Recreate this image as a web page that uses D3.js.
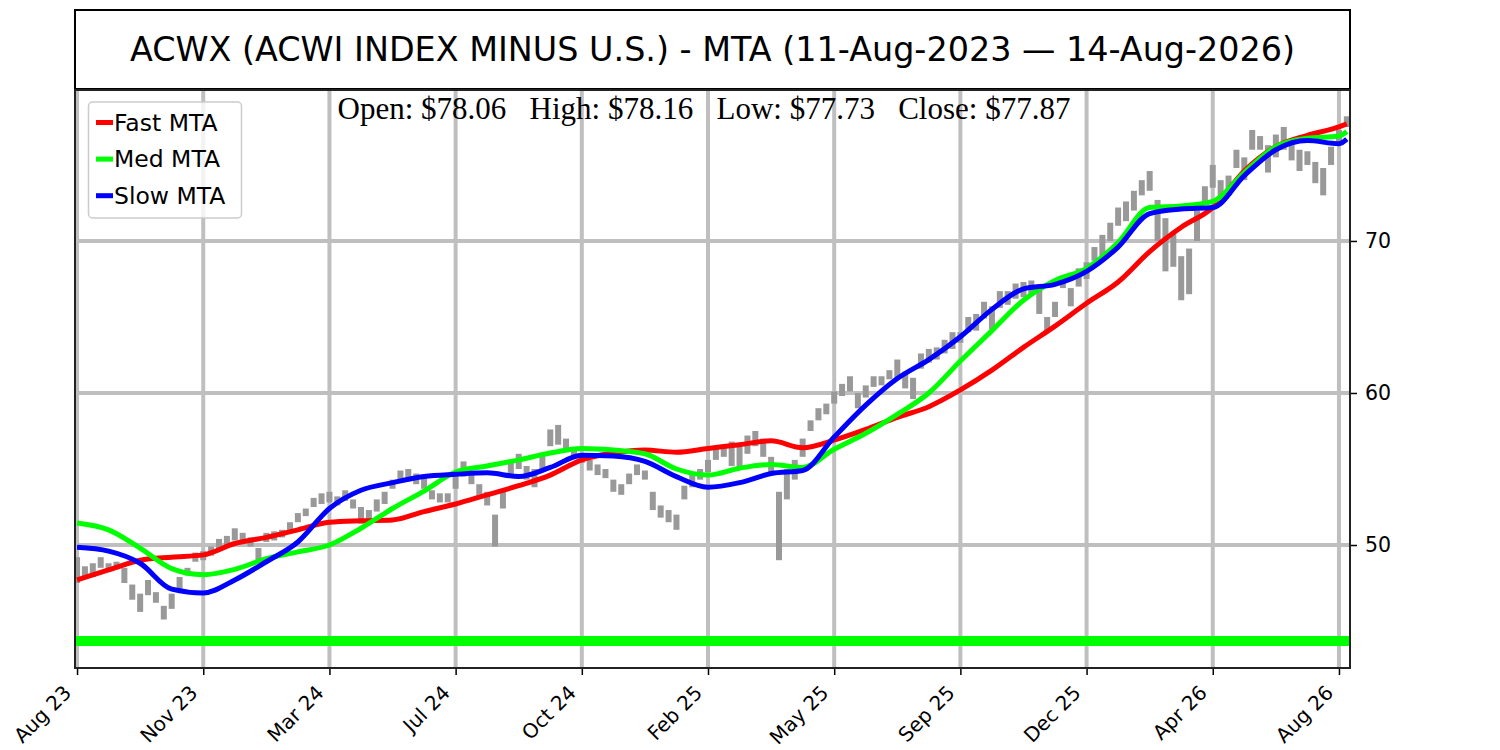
<!DOCTYPE html>
<html><head><meta charset="utf-8">
<script src="https://cdn.jsdelivr.net/npm/d3@7/dist/d3.min.js"></script>
<style>body{margin:0;background:#fff} svg{display:block}</style>
</head><body>
<svg id="c" width="1500" height="750"></svg>
<script>
// ---------- data ----------
const titleText = "ACWX (ACWI INDEX MINUS U.S.) - MTA (11-Aug-2023 \u2014 14-Aug-2026)";
const ohlcText = "Open: $78.06   High: $78.16   Low: $77.73   Close: $77.87";
const tickLabels = ["Aug 23","Nov 23","Mar 24","Jul 24","Oct 24","Feb 25","May 25","Sep 25","Dec 25","Apr 26","Aug 26"];
const tickIndex = [0,80,160,240,320,400,480,560,640,720,800];
const yTicks = [50,60,70];
const levelValue = 43.68;
const barStep = 5;  // bars sampled every 5 sessions
const barLow = [
47.5,47.8,47.9,48.5,48.3,48.4,47.5,46.4,45.6,46.7,46.2,45.1,45.8,47.0,48.0,48.9,49.0,49.3,49.6,49.8,
50.3,50.2,49.9,49.0,50.2,50.3,50.5,50.8,51.5,51.9,52.5,52.7,52.8,52.6,52.9,52.4,51.4,51.6,52.2,52.7,
53.7,54.2,54.2,54.0,53.7,53.0,52.8,52.8,53.7,54.5,54.0,53.2,52.6,49.9,52.4,54.4,55.0,54.3,53.8,55.0,
56.5,56.6,56.1,55.8,55.4,54.9,54.6,54.4,53.5,53.3,54.0,54.6,54.3,52.3,51.8,51.5,51.0,53.0,53.8,54.3,
54.8,55.6,55.8,55.2,55.0,56.0,56.5,55.8,54.8,49.0,53.0,54.3,55.8,57.5,58.2,58.6,59.3,59.8,60.1,59.0,
59.7,60.4,60.5,60.9,61.0,60.3,59.6,61.6,62.0,62.2,62.6,62.9,63.3,64.0,64.1,64.9,64.2,65.6,65.8,66.2,
66.3,66.5,65.2,64.0,65.0,66.9,65.7,67.0,67.5,68.7,69.0,70.0,71.0,71.3,72.0,73.0,73.3,70.0,68.0,68.3,
66.1,66.5,70.0,72.4,73.5,72.5,73.0,74.8,74.0,76.0,76.0,74.5,75.5,76.0,75.3,74.6,75.0,73.8,73.0,75.0,
76.3,77.5];
const barHigh = [
49.2,48.6,48.8,49.2,48.8,48.9,48.5,47.4,46.8,47.7,46.9,46.0,46.8,47.9,48.5,49.5,49.6,49.9,50.4,50.6,
51.1,50.8,50.5,49.8,50.8,50.9,51.0,51.5,52.1,52.4,53.1,53.4,53.5,53.2,53.6,53.0,52.5,52.3,53.0,53.5,
54.3,54.9,55.0,54.7,54.4,53.6,53.4,53.4,54.6,55.5,54.8,54.0,53.5,52.0,53.6,55.6,56.0,55.2,55.0,55.9,
57.6,57.9,57.0,56.4,55.9,55.6,55.3,55.0,54.3,54.0,54.7,55.3,54.9,53.5,52.6,52.3,52.0,53.9,54.6,55.0,
55.6,56.4,56.6,56.8,56.6,57.2,57.5,57.0,55.8,53.5,55.0,55.6,57.0,58.2,59.0,59.3,60.1,60.6,61.1,60.0,
60.5,61.1,61.1,61.5,62.2,61.4,61.0,62.6,62.9,63.0,63.5,64.0,64.0,65.0,65.2,66.0,65.7,66.7,66.7,67.2,
67.3,67.4,67.0,65.0,66.0,67.6,66.9,68.2,68.6,69.6,70.4,71.2,72.2,72.6,73.3,74.0,74.6,72.7,71.5,70.5,
69.0,69.5,72.0,73.6,75.0,74.0,74.3,76.0,75.5,77.3,76.9,76.3,77.0,77.5,76.6,76.0,75.9,75.2,74.8,76.2,
77.3,78.2];
const lineIndex = [0,20,40,60,80,100,120,140,160,180,200,220,240,260,280,300,320,340,360,380,400,
  420,440,460,480,500,520,540,560,580,600,620,640,660,680,700,720,740,760,780,800,805];
const fastMTA = [47.7,48.36,49.0,49.2,49.35,50.1,50.5,51.0,51.5,51.6,51.65,52.2,52.7,53.3,53.9,54.6,55.6,56.05,56.25,56.1,56.35,
  56.6,56.85,56.4,56.9,57.6,58.4,59.1,60.2,61.5,63.0,64.4,65.9,67.3,69.3,70.9,72.2,74.6,76.2,76.95,77.5,77.7];
const medMTA = [51.45,51.0,49.8,48.45,48.05,48.4,49.1,49.55,50.0,51.1,52.4,53.55,54.8,55.2,55.6,56.05,56.35,56.25,56.0,55.0,54.6,
  55.05,55.3,55.1,56.3,57.35,58.6,60.0,62.1,64.1,66.1,67.4,68.2,69.9,72.2,72.3,72.6,74.5,76.2,76.75,76.9,77.2];
const slowMTA = [49.85,49.6,48.8,47.1,46.85,47.7,48.9,50.2,52.4,53.6,54.1,54.5,54.65,54.75,54.5,55.1,55.9,55.85,55.5,54.5,53.8,
  54.1,54.7,54.9,57.1,59.2,60.95,62.2,63.7,65.5,66.85,67.15,68.0,69.6,71.8,72.1,72.2,74.3,76.0,76.6,76.4,76.7];
const seriesNames = ["Fast MTA","Med MTA","Slow MTA"];
const seriesColors = ["#ff0000","#00ff00","#0000ff"];

// ---------- layout ----------
const L = 75, R = 1350, T = 90, B = 668;
const svg = d3.select("#c");
const x = d3.scaleLinear().domain([-1.3, 807]).range([L, R]);
const y = d3.scaleLinear().domain([41.91, 79.93]).range([B, T]);

// title box
svg.append("rect").attr("x", L).attr("y", 10).attr("width", R - L).attr("height", 79)
  .attr("fill", "#fff").attr("stroke", "#000").attr("stroke-width", 2);
svg.append("text").attr("x", (L + R) / 2).attr("y", 60.5).attr("text-anchor", "middle")
  .attr("font-family", "DejaVu Sans").attr("font-size", 33.4).attr("fill", "#000").text(titleText);

svg.append("clipPath").attr("id", "pc").append("rect")
  .attr("x", L).attr("y", T).attr("width", R - L).attr("height", B - T);
const plot = svg.append("g").attr("clip-path", "url(#pc)");

// grid
plot.selectAll(".gv").data(tickIndex).join("line")
  .attr("x1", d => x(d)).attr("x2", d => x(d)).attr("y1", T).attr("y2", B)
  .attr("stroke", "#bfbfbf").attr("stroke-width", 4);
plot.selectAll(".gh").data(yTicks).join("line")
  .attr("x1", L).attr("x2", R).attr("y1", d => y(d)).attr("y2", d => y(d))
  .attr("stroke", "#bfbfbf").attr("stroke-width", 4);

// level line
plot.append("line").attr("x1", L).attr("x2", R).attr("y1", y(levelValue)).attr("y2", y(levelValue))
  .attr("stroke", "#00ff00").attr("stroke-width", 10);

// price bars
const bars = barLow.map((lo, k) => ({i: k * barStep, lo, hi: barHigh[k]}));
plot.selectAll(".bar").data(bars).join("line")
  .attr("x1", d => x(d.i)).attr("x2", d => x(d.i))
  .attr("y1", d => y(d.lo)).attr("y2", d => y(d.hi))
  .attr("stroke", "#999999").attr("stroke-width", 6);

// MTA lines
const line = d3.line().x(d => x(d[0])).y(d => y(d[1])).curve(d3.curveMonotoneX);
[fastMTA, medMTA, slowMTA].forEach((s, k) => {
  plot.append("path").datum(lineIndex.map((ix, j) => [ix, s[j]]))
    .attr("d", line).attr("fill", "none").attr("stroke", seriesColors[k]).attr("stroke-width", 5)
    .attr("stroke-linejoin", "round");
});

// axes
const yAxis = svg.append("g").attr("transform", `translate(${R},0)`)
  .call(d3.axisRight(y).tickValues(yTicks).tickSize(7).tickPadding(8).tickFormat(d3.format("d")));
yAxis.select(".domain").remove();
yAxis.selectAll("line").attr("stroke", "#000").attr("stroke-width", 1.5);
yAxis.selectAll("text").attr("font-family", "DejaVu Sans").attr("font-size", 20.5).attr("fill", "#000");

const xAxis = svg.append("g").attr("transform", `translate(0,${B})`)
  .call(d3.axisBottom(x).tickValues(tickIndex).tickSize(7).tickFormat((d, k) => tickLabels[k]));
xAxis.select(".domain").remove();
xAxis.selectAll("line").attr("stroke", "#000").attr("stroke-width", 1.5);
xAxis.selectAll("text").attr("font-family", "DejaVu Sans").attr("font-size", 20).attr("fill", "#000")
  .attr("text-anchor", "end").attr("x", 0).attr("y", 0).attr("dy", 0)
  .attr("transform", "translate(-5,26) rotate(-45)");

// spines
svg.append("rect").attr("x", L).attr("y", T).attr("width", R - L).attr("height", B - T)
  .attr("fill", "none").attr("stroke", "#222").attr("stroke-width", 2);

// OHLC text
svg.append("text").attr("x", 704).attr("y", 119).attr("text-anchor", "middle")
  .attr("font-family", "Liberation Serif, Times New Roman, serif").attr("font-size", 31)
  .style("white-space", "pre").attr("xml:space", "preserve").attr("fill", "#000").text(ohlcText);

// legend
const lg = svg.append("g");
lg.append("rect").attr("x", 88.5).attr("y", 102).attr("width", 153).attr("height", 116).attr("rx", 4)
  .attr("fill", "#fff").attr("fill-opacity", 0.8).attr("stroke", "#cccccc").attr("stroke-width", 1.5);
seriesNames.forEach((n, k) => {
  const yy = 122.5 + k * 36.6;
  lg.append("line").attr("x1", 96).attr("x2", 113).attr("y1", yy).attr("y2", yy)
    .attr("stroke", seriesColors[k]).attr("stroke-width", 5);
  lg.append("text").attr("x", 114).attr("y", yy + 8.3).attr("font-family", "DejaVu Sans")
    .attr("font-size", 23.5).attr("fill", "#000").text(n);
});
</script>
</body></html>
